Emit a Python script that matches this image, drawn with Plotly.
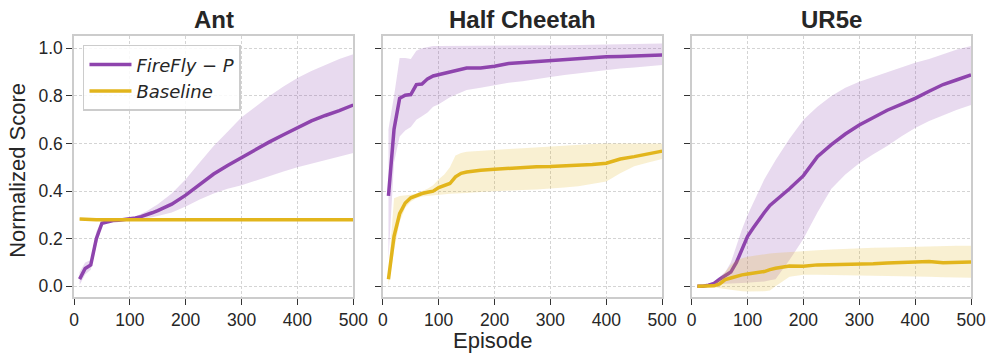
import plotly.graph_objects as go
from plotly.subplots import make_subplots

PURPLE = "#8e44ad"
YELLOW = "#e2b51c"
PURPLE_FILL = "rgba(142,68,173,0.2)"
YELLOW_FILL = "rgba(226,181,28,0.2)"
FONT = "Liberation Sans, Arial, sans-serif"
LEGEND_FONT = "DejaVu Sans, sans-serif"

TITLES = ["Ant", "Half Cheetah", "UR5e"]
X_TICKS = [0, 100, 200, 300, 400, 500]
Y_TICKS = [0.0, 0.2, 0.4, 0.6, 0.8, 1.0]

EPISODES = [10, 20, 30, 40, 50, 60, 70, 80, 90, 100, 110, 120, 130, 140, 150,
            175, 200, 225, 250, 275, 300, 325, 350, 375, 400, 425, 450, 475, 500]

# Ant
ant_ff_mean = [0.03, 0.075, 0.09, 0.20, 0.265, 0.272, 0.276, 0.278, 0.28, 0.283, 0.287, 0.293, 0.300, 0.309, 0.318,
               0.345, 0.383, 0.428, 0.472, 0.508, 0.542, 0.573, 0.607, 0.637, 0.665, 0.695, 0.718, 0.738, 0.762]
ant_ff_lo = [0.005, 0.05, 0.07, 0.17, 0.255, 0.268, 0.273, 0.276, 0.278, 0.28, 0.282, 0.284, 0.286, 0.29, 0.295,
             0.31, 0.335, 0.365, 0.39, 0.41, 0.425, 0.445, 0.465, 0.482, 0.50, 0.515, 0.53, 0.545, 0.56]
ant_ff_hi = [0.06, 0.10, 0.11, 0.23, 0.275, 0.277, 0.279, 0.281, 0.283, 0.287, 0.293, 0.303, 0.315, 0.33, 0.345,
             0.39, 0.45, 0.52, 0.59, 0.65, 0.71, 0.755, 0.80, 0.84, 0.875, 0.905, 0.93, 0.955, 0.975]
ant_bl_mean = [0.283, 0.281, 0.28, 0.28, 0.28, 0.28, 0.28, 0.28, 0.28, 0.28, 0.28, 0.28, 0.28, 0.28, 0.28,
               0.28, 0.28, 0.28, 0.28, 0.28, 0.28, 0.28, 0.28, 0.28, 0.28, 0.28, 0.28, 0.28, 0.28]
ant_bl_lo = [0.280, 0.278, 0.277, 0.277, 0.277, 0.277, 0.277, 0.277, 0.277, 0.277, 0.277, 0.277, 0.277, 0.277, 0.277,
             0.277, 0.277, 0.277, 0.277, 0.277, 0.277, 0.277, 0.277, 0.277, 0.277, 0.277, 0.277, 0.277, 0.277]
ant_bl_hi = [0.286, 0.284, 0.283, 0.283, 0.283, 0.283, 0.283, 0.283, 0.283, 0.283, 0.283, 0.283, 0.283, 0.283, 0.283,
             0.283, 0.283, 0.283, 0.283, 0.283, 0.283, 0.283, 0.283, 0.283, 0.283, 0.283, 0.283, 0.283, 0.283]

# Half Cheetah
hc_ff_mean = [0.38, 0.66, 0.79, 0.803, 0.806, 0.848, 0.85, 0.872, 0.884, 0.89, 0.895, 0.902, 0.908, 0.914, 0.917,
              0.918, 0.925, 0.936, 0.94, 0.945, 0.95, 0.953, 0.956, 0.96, 0.965, 0.966, 0.968, 0.97, 0.972]
hc_ff_lo = [0.11, 0.52, 0.63, 0.655, 0.67, 0.70, 0.715, 0.73, 0.755, 0.765, 0.78, 0.795, 0.805, 0.815, 0.825,
            0.835, 0.846, 0.855, 0.862, 0.872, 0.88, 0.888, 0.895, 0.903, 0.91, 0.915, 0.92, 0.925, 0.93]
hc_ff_hi = [0.66, 0.80, 0.96, 0.96, 0.955, 0.99, 1.0, 1.005, 1.01, 1.01, 1.01, 1.01, 1.01, 1.01, 1.01,
            1.01, 1.01, 1.01, 1.012, 1.012, 1.013, 1.013, 1.014, 1.015, 1.016, 1.017, 1.018, 1.019, 1.02]
hc_bl_mean = [0.03, 0.21, 0.305, 0.35, 0.372, 0.383, 0.39, 0.395, 0.40, 0.415, 0.425, 0.432, 0.46, 0.475, 0.48,
              0.488, 0.492, 0.496, 0.50, 0.502, 0.503, 0.505, 0.508, 0.512, 0.517, 0.535, 0.545, 0.555, 0.568]
hc_bl_lo = [0.0, 0.15, 0.27, 0.33, 0.355, 0.37, 0.377, 0.38, 0.383, 0.385, 0.387, 0.389, 0.39, 0.39, 0.392,
            0.396, 0.40, 0.402, 0.405, 0.407, 0.41, 0.415, 0.42, 0.43, 0.44, 0.475, 0.505, 0.52, 0.535]
hc_bl_hi = [0.06, 0.37, 0.38, 0.382, 0.385, 0.39, 0.40, 0.41, 0.425, 0.45, 0.47, 0.50, 0.55, 0.56, 0.565,
            0.57, 0.573, 0.577, 0.58, 0.584, 0.587, 0.59, 0.594, 0.598, 0.60, 0.60, 0.60, 0.60, 0.60]

# UR5e
ur_ff_mean = [0.0, 0.0, 0.005, 0.012, 0.03, 0.045, 0.06, 0.10, 0.155, 0.21, 0.245, 0.28, 0.31, 0.34, 0.36,
              0.41, 0.465, 0.545, 0.595, 0.64, 0.678, 0.71, 0.74, 0.765, 0.79, 0.82, 0.848, 0.868, 0.888]
ur_ff_lo = [0.0, 0.0, 0.0, 0.003, 0.01, 0.01, 0.012, 0.013, 0.014, 0.015, 0.016, 0.018, 0.02, 0.025, 0.03,
            0.11, 0.20, 0.31, 0.41, 0.47, 0.517, 0.555, 0.59, 0.63, 0.665, 0.695, 0.72, 0.742, 0.762]
ur_ff_hi = [0.0, 0.003, 0.01, 0.02, 0.04, 0.06, 0.10, 0.17, 0.24, 0.30, 0.35, 0.40, 0.45, 0.49, 0.53,
            0.62, 0.70, 0.755, 0.80, 0.835, 0.86, 0.88, 0.90, 0.92, 0.94, 0.955, 0.975, 0.995, 1.01]
ur_bl_mean = [0.0, 0.0, 0.0, 0.002, 0.01, 0.028, 0.035, 0.042, 0.048, 0.052, 0.055, 0.058, 0.062, 0.07, 0.076,
              0.085, 0.084, 0.09, 0.091, 0.092, 0.091, 0.095, 0.098, 0.10, 0.102, 0.104, 0.099, 0.101, 0.102]
ur_bl_lo = [0.0, 0.0, 0.0, -0.003, -0.008, -0.012, -0.016, -0.02, -0.021, -0.022, -0.022, -0.022, -0.021, -0.018, 0.0,
            0.04, 0.048, 0.049, 0.048, 0.048, 0.046, 0.045, 0.044, 0.042, 0.041, 0.04, 0.038, 0.037, 0.036]
ur_bl_hi = [0.0, 0.0, 0.002, 0.01, 0.03, 0.06, 0.09, 0.108, 0.118, 0.124, 0.128, 0.132, 0.135, 0.138, 0.14,
            0.145, 0.148, 0.152, 0.155, 0.158, 0.16, 0.162, 0.163, 0.165, 0.166, 0.168, 0.169, 0.17, 0.17]

PANELS = [
    (ant_ff_mean, ant_ff_lo, ant_ff_hi, ant_bl_mean, ant_bl_lo, ant_bl_hi),
    (hc_ff_mean, hc_ff_lo, hc_ff_hi, hc_bl_mean, hc_bl_lo, hc_bl_hi),
    (ur_ff_mean, ur_ff_lo, ur_ff_hi, ur_bl_mean, ur_bl_lo, ur_bl_hi),
]

fig = make_subplots(rows=1, cols=3, shared_yaxes=True, subplot_titles=TITLES,
                    horizontal_spacing=0.033)


def add_band(col, mean, lo, hi, color, fill, name):
    fig.add_trace(go.Scatter(x=EPISODES, y=hi, mode="lines", line=dict(width=0),
                             showlegend=False, hoverinfo="skip"), row=1, col=col)
    fig.add_trace(go.Scatter(x=EPISODES, y=lo, mode="lines", line=dict(width=0),
                             fill="tonexty", fillcolor=fill,
                             showlegend=False, hoverinfo="skip"), row=1, col=col)
    fig.add_trace(go.Scatter(x=EPISODES, y=mean, mode="lines", name=name,
                             line=dict(color=color, width=3.5),
                             showlegend=(col == 1)), row=1, col=col)


for i, (fm, fl, fh, bm, bl, bh) in enumerate(PANELS, start=1):
    add_band(i, fm, fl, fh, PURPLE, PURPLE_FILL, "<i>FireFly − P</i>")
    add_band(i, bm, bl, bh, YELLOW, YELLOW_FILL, "<i>Baseline</i>")

axis_style = dict(
    ticks="outside", ticklen=6, tickwidth=1.3, tickcolor="#333",
    showgrid=True, gridcolor="#d4d4d4", griddash="3px,2px", gridwidth=0.8,
    showline=True, linecolor="#cccccc", linewidth=1.5, mirror=True, zeroline=False,
    tickfont=dict(family=FONT, size=17.5, color="#262626"),
)
fig.update_xaxes(range=[0, 500], tickvals=X_TICKS, **axis_style)
fig.update_yaxes(range=[-0.045, 1.052], tickvals=Y_TICKS, tickformat=".1f", **axis_style)

for ann in fig.layout.annotations:
    ann.font = dict(family=FONT, size=24, color="#262626")
    ann.text = f"<b>{ann.text}</b>"
    ann.yshift = 1

fig.add_annotation(text="Episode", xref="paper", yref="paper", x=0.467, y=-0.165,
                   showarrow=False, yanchor="middle",
                   font=dict(family=FONT, size=22, color="#262626"))
fig.add_annotation(text="Normalized Score", xref="paper", yref="paper", x=-0.0625, y=0.487,
                   showarrow=False, textangle=-90, xanchor="center", yanchor="middle",
                   font=dict(family=FONT, size=22, color="#262626"))

fig.update_layout(
    width=997, height=358,
    margin=dict(l=74, r=26, t=36, b=61),
    paper_bgcolor="white", plot_bgcolor="white",
    legend=dict(x=0.010, y=0.966, xanchor="left", yanchor="top", traceorder="normal",
                bgcolor="rgba(255,255,255,0.85)", bordercolor="#cccccc", borderwidth=1.5,
                font=dict(family=LEGEND_FONT, size=18, color="#262626"), itemwidth=42),
)

fig.write_html("out.html", config={"displayModeBar": False},
               post_script="document.body.style.margin='0px';")
